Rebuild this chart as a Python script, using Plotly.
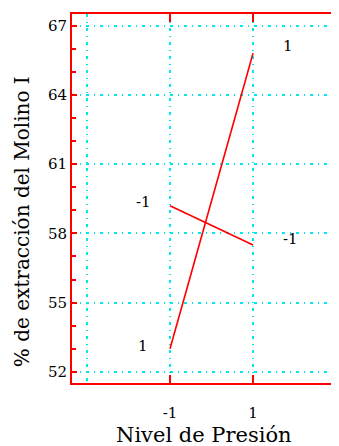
import plotly.graph_objects as go

# niveles del factor (x) y respuesta media para cada nivel del otro factor
niveles = [-1, 1]
serie_1 = [53.0, 65.8]    # otro factor en nivel 1
serie_m1 = [59.2, 57.5]   # otro factor en nivel -1
etiquetas = ["1", "-1"]

y_ticks = [52, 55, 58, 61, 64, 67]

ROJO = "#ff0000"
CIAN = "#00e8f0"
FUENTE = "DejaVu Serif, Times New Roman, serif"
GRID = "3px,5px,1px,5px"

fig = go.Figure()

for serie in [serie_1, serie_m1]:
    fig.add_trace(go.Scatter(x=niveles, y=serie, mode="lines",
                             line=dict(color=ROJO, width=1.6),
                             showlegend=False, hoverinfo="skip"))

# rotulos en los extremos de cada linea
desp = {"1": [(-27, 3), (35, 7)], "-1": [(-27, 4), (37, 6)]}
for serie, etq in zip([serie_1, serie_m1], etiquetas):
    for i, (xv, yv) in enumerate(zip(niveles, serie)):
        dx, dy = desp[etq][i]
        fig.add_annotation(x=xv, y=yv, text=etq, showarrow=False,
                           xshift=dx, yshift=dy,
                           font=dict(family=FUENTE, size=15, color="black"))

# titulos de los ejes
fig.add_annotation(text="Nivel de Presión", xref="paper", yref="paper",
                   x=0.494, y=-0.142, xanchor="center", yanchor="middle",
                   showarrow=False, font=dict(family=FUENTE, size=21, color="black"))
fig.add_annotation(text="% de extracción del Molino I", xref="paper", yref="paper",
                   x=-0.187, y=0.436, xanchor="center", yanchor="middle", textangle=-90,
                   showarrow=False, font=dict(family=FUENTE, size=20, color="black"))

fig.update_xaxes(
    range=[-3.36, 3.07],
    tickvals=niveles, ticktext=["-1", "1"],
    ticks="inside", ticklen=8, tickcolor=ROJO, tickwidth=1.5,
    ticklabelstandoff=15,
    showline=True, linecolor=ROJO, linewidth=2, mirror="ticks",
    showgrid=True, gridcolor=CIAN, gridwidth=1.5, griddash=GRID,
    minor=dict(tickvals=[-3, 3], showgrid=True, gridcolor=CIAN, gridwidth=1.5,
               griddash=GRID, ticklen=0),
    zeroline=False, automargin=False,
    tickfont=dict(family=FUENTE, size=15, color="black"),
)

fig.update_yaxes(
    range=[51.52, 67.5],
    tickvals=y_ticks,
    ticks="inside", ticklen=5, tickcolor=ROJO, tickwidth=1.5,
    showline=True, linecolor=ROJO, linewidth=2, mirror=False,
    showgrid=True, gridcolor=CIAN, gridwidth=1.5, griddash=GRID,
    minor=dict(dtick=1, tick0=52, ticks="inside", ticklen=4, tickcolor=ROJO, showgrid=False),
    zeroline=False, automargin=False,
    tickfont=dict(family=FUENTE, size=15, color="black"),
)

# la pagina tiene 8px de margen en el body: se compensa aqui
fig.update_layout(
    width=331, height=438,
    margin=dict(l=64, r=0, t=6, b=63),
    paper_bgcolor="white", plot_bgcolor="white",
)

fig.write_html("out.html")
